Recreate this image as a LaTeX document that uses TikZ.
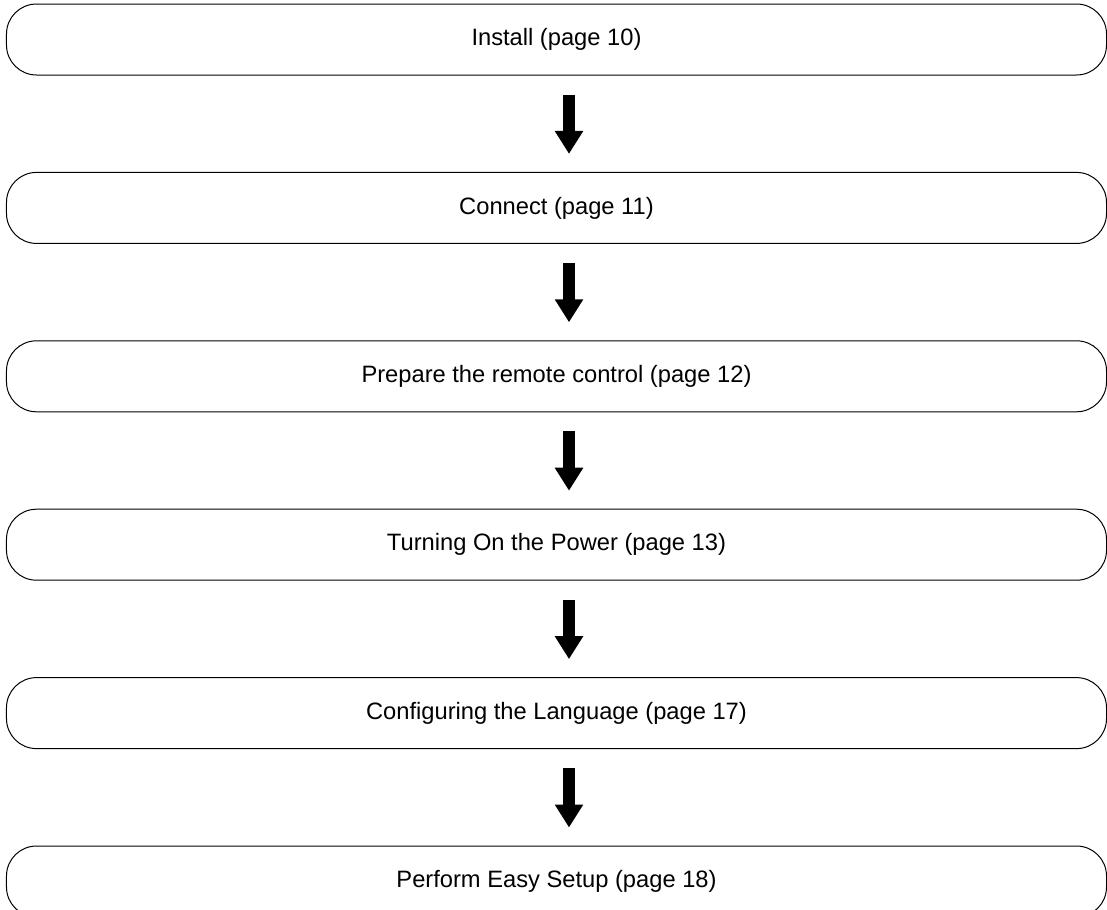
\documentclass[tikz,border=0pt]{standalone}
\usepackage{fontspec}
\setmainfont{Liberation Sans}
\usetikzlibrary{positioning}
\usetikzlibrary{arrows.meta}

\tikzset{
  stepbox/.style={draw, line width=1bp, rounded corners=30bp,
    minimum width=1100bp, minimum height=71bp, inner sep=0pt,
    font=\fontsize{23.7bp}{28bp}\selectfont},
  flowarrow/.style={line width=12bp, -{Triangle[width=27bp,length=23bp]}}
}

\begin{document}
\begin{tikzpicture}[x=1bp, y=-1bp, node distance=96.4bp]

  \useasboundingbox (0,0) rectangle (1107,910);

  % Define nodes
  \node[stepbox] (install) at (556.5,39.5) {Install (page 10)};
  \node[stepbox, below=of install] (connect) {Connect (page 11)};
  \node[stepbox, below=of connect] (remote) {Prepare the remote control (page 12)};
  \node[stepbox, below=of remote] (power) {Turning On the Power (page 13)};
  \node[stepbox, below=of power] (language) {Configuring the Language (page 17)};
  \node[stepbox, below=of language] (setup) {Perform Easy Setup (page 18)};

  % Connect the nodes
  \draw[flowarrow] ([xshift=12.5bp, yshift=-19bp]install.south) -- ([xshift=12.5bp, yshift=18bp]connect.north);
  \draw[flowarrow] ([xshift=12.5bp, yshift=-19bp]connect.south) -- ([xshift=12.5bp, yshift=18bp]remote.north);
  \draw[flowarrow] ([xshift=12.5bp, yshift=-19bp]remote.south) -- ([xshift=12.5bp, yshift=18bp]power.north);
  \draw[flowarrow] ([xshift=12.5bp, yshift=-19bp]power.south) -- ([xshift=12.5bp, yshift=18bp]language.north);
  \draw[flowarrow] ([xshift=12.5bp, yshift=-19bp]language.south) -- ([xshift=12.5bp, yshift=18bp]setup.north);

\end{tikzpicture}
\end{document}
